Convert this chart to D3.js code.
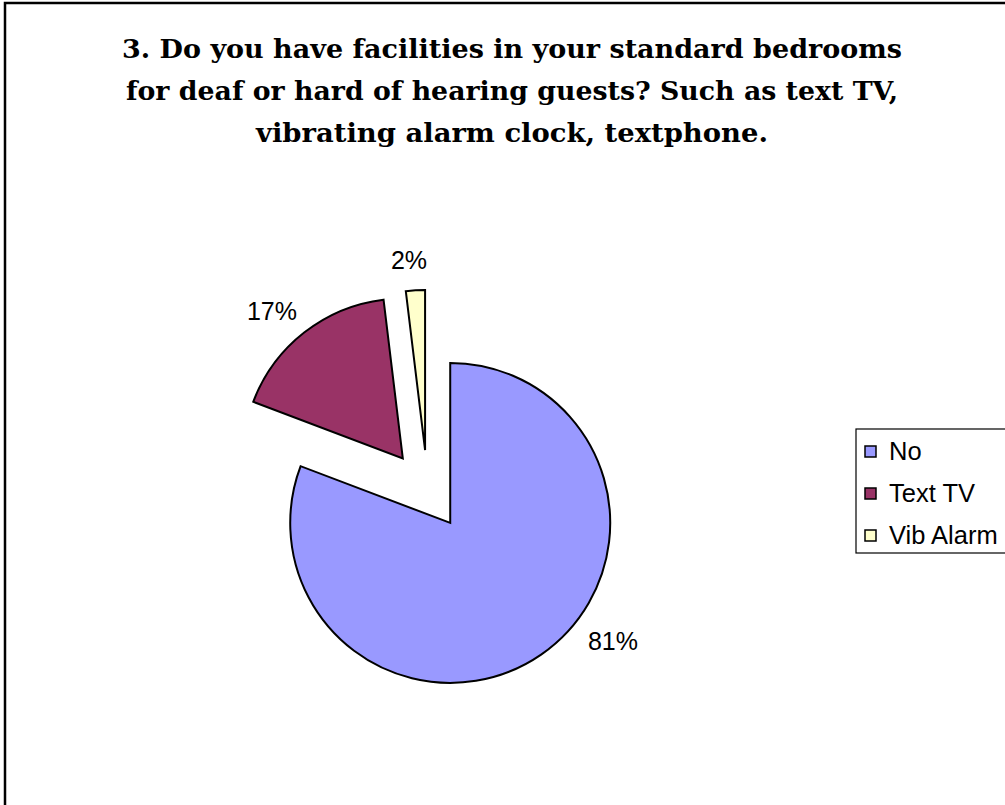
<!DOCTYPE html>
<html>
<head>
<meta charset="utf-8">
<script src="https://cdn.jsdelivr.net/npm/d3@7"></script>
<style>
  html, body { margin: 0; padding: 0; background: #fff; }
  svg { display: block; }
</style>
</head>
<body>
<div id="chart"></div>
<script>
// ---- data ----
const categories = ["No", "Text TV", "Vib Alarm"];
const counts = [42, 9, 1];
const colors = ["#9999FF", "#993366", "#FFFFCC"];
const titleLines = [
  "3. Do you have facilities in your standard bedrooms",
  "for deaf or hard of hearing guests? Such as text TV,",
  "vibrating alarm clock, textphone."
];

const W = 1005, H = 805;
const svg = d3.select("#chart").append("svg").attr("width", W).attr("height", H);

// outer frame
svg.append("rect").attr("x", 5).attr("y", 3).attr("width", 1040).attr("height", 840)
  .attr("fill", "#fff").attr("stroke", "#000").attr("stroke-width", 2.5);

// title
const titleWidths = [780, 772, 512];
const title = svg.append("g");
titleLines.forEach((t, i) => {
  title.append("text")
    .attr("x", 512).attr("y", 58 + i * 42)
    .attr("text-anchor", "middle")
    .attr("font-family", "'DejaVu Serif', serif")
    .attr("font-weight", "bold")
    .attr("font-size", 26)
    .attr("fill", "#000")
    .attr("textLength", titleWidths[i])
    .attr("lengthAdjust", "spacingAndGlyphs")
    .text(t);
});

// pie
const cx = 427.5, cy = 490, R = 160, explode = 40;
const total = d3.sum(counts);
const pie = d3.pie().sort(null).value(d => d)(counts);
const arc = d3.arc().innerRadius(0).outerRadius(R);
const pct = d3.format(".0%");
const g = svg.append("g").attr("transform", `translate(${cx},${cy})`);

pie.forEach((p, i) => {
  const mid = (p.startAngle + p.endAngle) / 2;
  const dx = Math.sin(mid) * explode, dy = -Math.cos(mid) * explode;
  g.append("path")
    .attr("transform", `translate(${dx},${dy})`)
    .attr("d", arc(p))
    .attr("fill", colors[i])
    .attr("stroke", "#000")
    .attr("stroke-width", 2)
    .attr("stroke-linejoin", "miter");
});

// labels: anchor just outside the arc, label box pushed outward
const labelGap = 22;
// angular nudge (radians) applied to the label direction of each slice (layout only)
const labelNudge = [-0.30, -0.02, -0.02];
pie.forEach((p, i) => {
  const mid = (p.startAngle + p.endAngle) / 2;
  const ox = Math.sin(mid) * explode, oy = -Math.cos(mid) * explode;
  const a = mid + labelNudge[i];
  const s = Math.sin(a), c = -Math.cos(a);
  const txt = g.append("text")
    .attr("text-anchor", "middle")
    .attr("font-family", "'Liberation Sans', Arial, sans-serif")
    .attr("font-size", 25)
    .attr("fill", "#000")
    .text(pct(counts[i] / total));
  const w = txt.node().getComputedTextLength(), h = 18;
  const ax = ox + s * (R + labelGap), ay = oy + c * (R + labelGap);
  const lx = ax + s * w / 2, ly = ay + c * h / 2;
  txt.attr("x", lx).attr("y", ly + 9);
});

// legend
const lg = svg.append("g");
lg.append("rect").attr("x", 856).attr("y", 429).attr("width", 200).attr("height", 124)
  .attr("fill", "#fff").attr("stroke", "#000").attr("stroke-width", 1.2);
const rowY = d3.scalePoint().domain(categories).range([451.5, 535.5]);
categories.forEach((c, i) => {
  const y = rowY(c);
  lg.append("rect").attr("x", 865).attr("y", y - 5.5).attr("width", 11).attr("height", 11)
    .attr("fill", colors[i]).attr("stroke", "#000").attr("stroke-width", 1.5);
  lg.append("text").attr("x", 889).attr("y", y + 8)
    .attr("font-family", "'Liberation Sans', Arial, sans-serif")
    .attr("font-size", 25.5).attr("fill", "#000").text(c);
});
</script>
</body>
</html>
